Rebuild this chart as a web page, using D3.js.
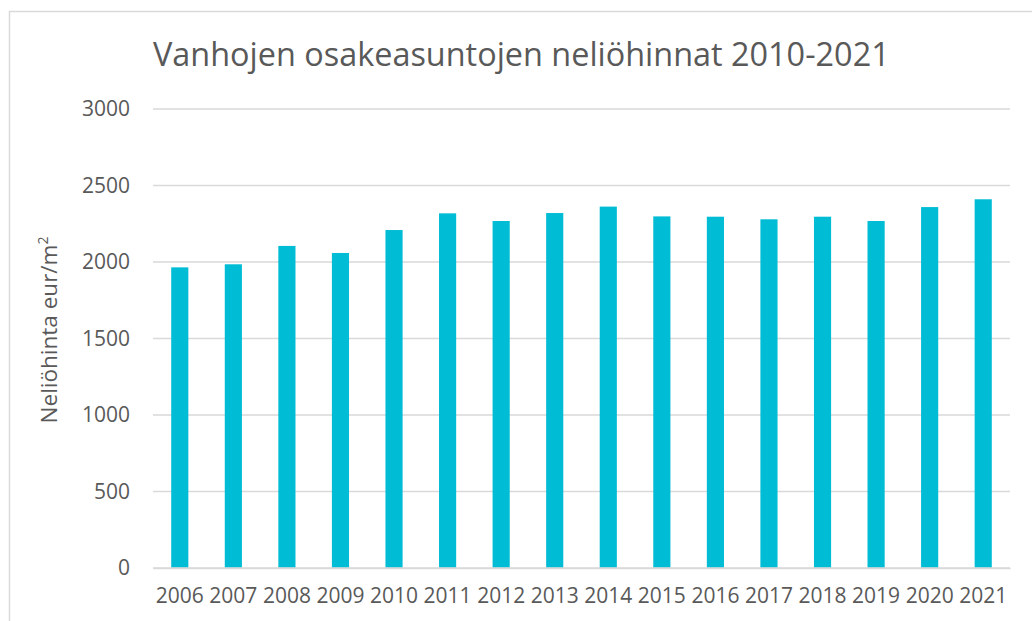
<!DOCTYPE html>
<html>
<head>
<meta charset="utf-8">
<script src="https://cdn.jsdelivr.net/npm/d3@7"></script>
<style>
  body { margin: 0; background: #fff; }
  text { font-family: "Open Sans", sans-serif; fill: #595959; }
</style>
</head>
<body>
<div id="chart"></div>
<script>
// data
const years = ['2006', '2007', '2008', '2009', '2010', '2011', '2012', '2013',
  '2014', '2015', '2016', '2017', '2018', '2019', '2020', '2021'];
const prices = [1965, 1985, 2105, 2059, 2209, 2318, 2268, 2320,
  2362, 2298, 2296, 2279, 2296, 2268, 2359, 2410];
const yTicks = [0, 500, 1000, 1500, 2000, 2500, 3000];
const title = 'Vanhojen osakeasuntojen neliöhinnat 2010-2021';

const width = 1032;
const height = 621;
const plot = { left: 153, right: 1010, top: 109, bottom: 568 };

const svg = d3.select('#chart')
  .append('svg')
  .attr('width', width)
  .attr('height', height);

// outer chart border (cut by the window on the right and bottom)
svg.append('rect')
  .attr('x', 9.5)
  .attr('y', 11.5)
  .attr('width', 1040)
  .attr('height', 640)
  .style('fill', 'none')
  .style('stroke', '#d9d9d9')
  .style('stroke-width', 1.5);

const x = d3.scaleBand()
  .domain(years)
  .range([plot.left, plot.right])
  .paddingInner(0.68)
  .paddingOuter(0.34);

const y = d3.scaleLinear()
  .domain([0, 3000])
  .range([plot.bottom, plot.top]);

// gridlines
svg.append('g')
  .selectAll('line')
  .data(yTicks.filter((d) => d > 0))
  .enter()
  .append('line')
  .attr('x1', plot.left)
  .attr('x2', plot.right)
  .attr('y1', (d) => y(d))
  .attr('y2', (d) => y(d))
  .style('stroke', '#d9d9d9')
  .style('stroke-width', 1.5);

// bars
svg.append('g')
  .selectAll('rect')
  .data(years)
  .enter()
  .append('rect')
  .attr('x', (d) => x(d))
  .attr('width', x.bandwidth())
  .attr('y', (d, i) => y(prices[i]))
  .attr('height', (d, i) => y(0) - y(prices[i]))
  .style('fill', '#00bcd4');

// y axis
const yAxis = svg.append('g')
  .attr('transform', `translate(${plot.left},0)`)
  .call(d3.axisLeft(y).tickValues(yTicks).tickFormat(d3.format('d')).tickSize(0).tickPadding(23));
yAxis.select('.domain').remove();
yAxis.selectAll('text')
  .style('font-size', '21px')
  .style('font-family', '"Open Sans", sans-serif')
  .attr('fill', '#595959');

// x axis
const xAxis = svg.append('g')
  .attr('transform', `translate(0,${plot.bottom})`)
  .call(d3.axisBottom(x).tickSize(0).tickPadding(20));
xAxis.select('.domain')
  .style('stroke', '#d9d9d9')
  .style('stroke-width', 1.5);
xAxis.selectAll('text')
  .style('font-size', '21px')
  .style('font-family', '"Open Sans", sans-serif')
  .attr('fill', '#595959');

// bottom axis line drawn over bars
svg.append('line')
  .attr('x1', plot.left)
  .attr('x2', plot.right)
  .attr('y1', y(0))
  .attr('y2', y(0))
  .style('stroke', '#d9d9d9')
  .style('stroke-width', 1.5);

// title
const titleText = svg.append('text')
  .attr('x', 153)
  .attr('y', 66)
  .style('font-size', '32px')
  .text(title);
// fit to the width of the reference title
const tw = titleText.node().getComputedTextLength();
titleText.style('font-size', `${32 * 737 / tw}px`);

// y axis title
const yLabel = svg.append('text')
  .attr('transform', 'translate(57,330) rotate(-90)')
  .attr('text-anchor', 'middle')
  .style('font-size', '22.5px');
yLabel.append('tspan').text('Neliöhinta eur/m');
yLabel.append('tspan')
  .attr('dy', -9)
  .style('font-size', '14px')
  .text('2');
</script>
</body>
</html>
